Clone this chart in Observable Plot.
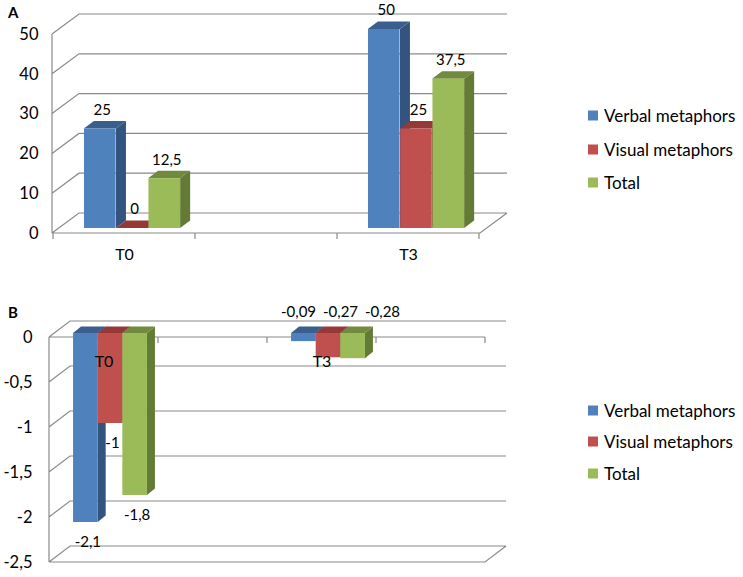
<!DOCTYPE html>
<html>
<head>
<meta charset="utf-8">
<script src="https://cdn.jsdelivr.net/npm/d3@7"></script>
<script src="https://cdn.jsdelivr.net/npm/@observablehq/plot@0.6"></script>
<style>
  body { margin: 0; background: #fff; font-family: Lato, "Open Sans", sans-serif; }
  #wrap { position: relative; width: 743px; height: 577px; overflow: hidden; background: #fff; }
  .panel { position: absolute; left: 0; }
  .tag { position: absolute; left: 8px; font: bold 15px Lato, sans-serif; line-height: 1; }
  .legend { position: absolute; left: 588px; font-size: 17px; color: #000; }
  .legend .item { position: absolute; left: 0; display: flex; align-items: center; white-space: nowrap; transform: translateY(-50%); }
  .legend .sw { width: 10px; height: 10px; margin-right: 6px; flex: none; }
</style>
</head>
<body>
<div id="wrap"></div>
<script>
// ---- data ----
const seriesNames = ["Verbal metaphors", "Visual metaphors", "Total"];
const measured = ["T0", "T3"];
const categoriesA = ["T0", " ", "T3"];          // empty middle slot as in the original axis
const categoriesB = ["T0", " ", "T3", "  "];
const verbalA = [25, 50];
const visualA = [0, 25];
const totalA = [12.5, 37.5];
const verbalB = [-2.1, -0.09];
const visualB = [-1, -0.27];
const totalB = [-1.8, -0.28];
const ticksA = [0, 10, 20, 30, 40, 50];
const ticksB = [0, -0.5, -1, -1.5, -2, -2.5];

const frontColors = ["#4F81BD", "#C0504D", "#9BBB59"];
const sideColors = ["#33547E", "#8C3532", "#647B35"];
const topColors = ["#3A5E8E", "#943937", "#718A3D"];

const fmt = v => String(v).replace(".", ",");

function toRows(verbal, visual, total) {
  return measured.flatMap((cat, k) =>
    [verbal[k], visual[k], total[k]].map((value, i) => ({cat, i, series: seriesNames[i], value})));
}
const rowsA = toRows(verbalA, visualA, totalA);
const rowsB = toRows(verbalB, visualB, totalB);

const W = 743;
const BAR_FRAC = 0.226;

function buildPanel(cfg) {
  const {cats, rows, domain, ticks, height, mt, mr, mb, ml, depth, plane, bar,
         catAxisValue, floorValue, catDy, tickPadding} = cfg;
  const bandW = (W - ml - mr) / cats.length;
  const w = bandW * BAR_FRAC;
  const pad = (bandW - 3 * w) / 2;

  // 3D walls: left wall diagonals, back wall gridlines, floor, category axis
  const walls = (index, scales, values, dims) => {
    const {x, y} = scales;
    const x0 = dims.marginLeft, x1 = dims.width - dims.marginRight;
    const [ddx, ddy] = depth;
    const p = d3.path();
    for (const t of ticks) {
      const yy = y(t);
      p.moveTo(x0, yy); p.lineTo(x0 + ddx, yy + ddy); p.lineTo(x1 + ddx, yy + ddy);
    }
    const [lo, hi] = d3.extent(ticks);
    p.moveTo(x0, y(hi)); p.lineTo(x0, y(lo));
    const yf = y(floorValue);
    p.moveTo(x0, yf); p.lineTo(x1, yf); p.lineTo(x1 + ddx, yf + ddy);
    const ya = y(catAxisValue);
    p.moveTo(x0, ya); p.lineTo(x1, ya);
    const bw = x.bandwidth();
    const bounds = x.domain().map(c => x(c)).concat([x(x.domain()[x.domain().length - 1]) + bw]);
    for (const b of bounds) { p.moveTo(b, ya); p.lineTo(b, ya + 6); }
    const g = d3.create("svg:g");
    g.append("path").attr("d", p.toString()).attr("fill", "none")
      .attr("stroke", "#8a8a8a").attr("stroke-width", 1.2);
    return g.node();
  };

  // side and top faces of the bars
  const faces = (index, scales, values, dims) => {
    const {x, y} = scales;
    const bw = x.bandwidth();
    const ww = bw * BAR_FRAC, pp = (bw - 3 * ww) / 2;
    const [bx, by] = plane;
    const [ex, ey] = bar;
    const g = d3.create("svg:g");
    const poly = pts => pts.map(q => q.join(",")).join(" ");
    for (const layer of ["side", "top"]) {
      for (const d of rows) {
        const left = x(d.cat) + pp + d.i * ww + bx;
        const right = left + ww;
        const yv = y(d.value) + by, y0 = y(0) + by;
        const yt = Math.min(yv, y0), yb = Math.max(yv, y0);
        if (layer === "side") {
          g.append("polygon").attr("points", poly([[right, yt], [right + ex, yt + ey], [right + ex, yb + ey], [right, yb]]))
            .attr("fill", sideColors[d.i]);
        } else {
          g.append("polygon").attr("points", poly([[left, yt], [left + ex, yt + ey], [right + ex, yt + ey], [right, yt]]))
            .attr("fill", topColors[d.i]);
        }
      }
    }
    return g.node();
  };

  const fronts = [0, 1, 2].map(i => Plot.barY(rows.filter(d => d.i === i), {
    x: "cat", y: "value", fill: frontColors[i],
    insetLeft: pad + i * w, insetRight: bandW - pad - (i + 1) * w,
    dx: plane[0], dy: plane[1]
  }));

  const labels = [];
  for (const i of [0, 1, 2]) {
    const sub = rows.filter(d => d.i === i);
    const up = sub.filter(d => d.value >= 0);
    const nearZero = sub.filter(d => d.value < 0 && d.value > -0.5);
    const down = sub.filter(d => d.value <= -0.5);
    const common = {x: "cat", text: d => fmt(d.value), lineAnchor: "middle", fontSize: 15, fill: "#000"};
    if (up.length) labels.push(Plot.text(up, {...common, y: "value", dx: (i - 1) * w + plane[0] + 2, dy: plane[1] - 19}));
    if (nearZero.length) labels.push(Plot.text(nearZero, {...common, y: () => 0, dx: plane[0] + 12 + (i - 1) * 42, dy: plane[1] - 21}));
    if (down.length) labels.push(Plot.text(down, {...common, y: "value", dx: (i - 1) * w + plane[0] + 2, dy: plane[1] + 20}));
  }

  return Plot.plot({
    width: W, height,
    marginTop: mt, marginRight: mr, marginBottom: mb, marginLeft: ml,
    x: {type: "band", domain: cats, padding: 0, axis: null},
    y: {domain, axis: null},
    style: {fontFamily: "Lato, sans-serif", background: "transparent"},
    marks: [
      walls,
      Plot.axisY(ticks, {tickSize: 0, tickPadding, tickFormat: fmt, fontSize: 16.5, label: null}),
      faces,
      ...fronts,
      Plot.text(cats.filter(c => c.trim()), {x: d => d, y: () => catAxisValue, dy: catDy, lineAnchor: "middle", fontSize: 16, fill: "#000"}),
      ...labels
    ]
  });
}

const plotA = buildPanel({
  cats: categoriesA, rows: rowsA, domain: [0, 50], ticks: ticksA,
  height: 290, mt: 34, mr: 263, mb: 57, ml: 52,
  depth: [27, -20], plane: [8, -5], bar: [10, -7.5],
  catAxisValue: 0, floorValue: 0, catDy: 21, tickPadding: 14
});
const plotB = buildPanel({
  cats: categoriesB, rows: rowsB, domain: [-2.5, 0], ticks: ticksB,
  height: 287, mt: 47, mr: 258, mb: 15, ml: 49,
  depth: [21, -16], plane: [6.5, -4], bar: [8, -6.5],
  catAxisValue: 0, floorValue: -2.5, catDy: 24, tickPadding: 17
});

const wrap = document.getElementById("wrap");
function place(node, top) {
  const d = document.createElement("div");
  d.className = "panel"; d.style.top = top + "px";
  d.appendChild(node); wrap.appendChild(d);
}
place(plotA, 0);
place(plotB, 290);

function tag(text, top) {
  const t = document.createElement("div");
  t.className = "tag"; t.textContent = text; t.style.top = top + "px";
  wrap.appendChild(t);
}
tag("A", 5);
tag("B", 305);

function legend(centers) {
  const lg = document.createElement("div");
  lg.className = "legend"; lg.style.top = "0px";
  seriesNames.forEach((name, i) => {
    const it = document.createElement("div");
    it.className = "item"; it.style.top = centers[i] + "px";
    const sw = document.createElement("span");
    sw.className = "sw"; sw.style.background = frontColors[i];
    const tx = document.createElement("span"); tx.textContent = name;
    it.appendChild(sw); it.appendChild(tx); lg.appendChild(it);
  });
  wrap.appendChild(lg);
}
legend([115, 149, 182]);
legend([410, 441, 473]);
</script>
</body>
</html>
